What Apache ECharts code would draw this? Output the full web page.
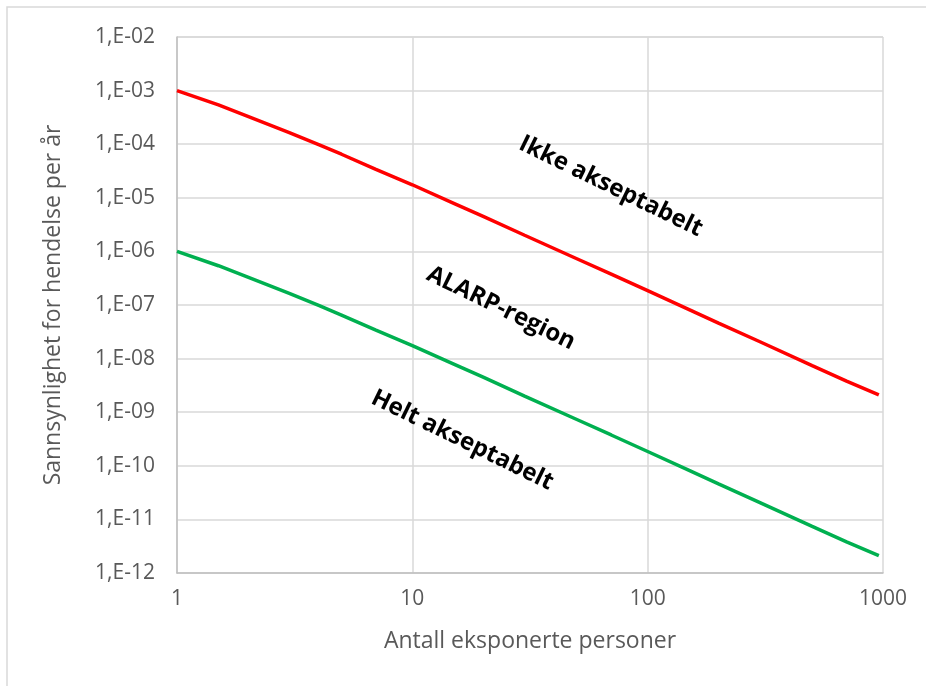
<!DOCTYPE html>
<html>
<head>
<meta charset="utf-8">
<script src="https://cdn.jsdelivr.net/npm/echarts@6/dist/echarts.min.js"></script>
<style>
html,body{margin:0;padding:0;background:#fff;}
#c{width:926px;height:686px;}
</style>
</head>
<body>
<div id="c"></div>
<script>
// Data
const persons = [1, 1.5, 2, 3, 4, 5, 7, 10, 15, 20, 30, 50, 70, 100, 150, 200, 300, 500, 700, 960];
const ikkeAkseptabelt = [1.0e-3, 5.4e-4, 3.3e-4, 1.65e-4, 9.8e-5, 6.5e-5, 3.4e-5, 1.75e-5, 7.9e-6, 4.5e-6, 2.0e-6, 7.3e-7, 3.76e-7, 1.85e-7, 8.2e-8, 4.6e-8, 2.06e-8, 7.4e-9, 3.8e-9, 2.1e-9];
const heltAkseptabelt = [1.0e-6, 5.4e-7, 3.3e-7, 1.65e-7, 9.8e-8, 6.5e-8, 3.4e-8, 1.75e-8, 7.9e-9, 4.5e-9, 2.0e-9, 7.3e-10, 3.76e-10, 1.85e-10, 8.2e-11, 4.6e-11, 2.06e-11, 7.4e-12, 3.8e-12, 2.1e-12];
const regionLabels = ['Ikke akseptabelt', 'ALARP-region', 'Helt akseptabelt'];
const labelAnchors = [[69.7, 1.64e-5], [23.8, 8.7e-8], [16.3, 3.0e-10]];
const xTitle = 'Antall eksponerte personer';
const yTitle = 'Sannsynlighet for hendelse per år';

const font = '"Open Sans", sans-serif';
const grey = '#595959';

const chart = echarts.init(document.getElementById('c'), null, {renderer: 'canvas'});
const pair = (xs, ys) => xs.map((x, i) => [x, ys[i]]);

chart.setOption({
  animation: false,
  backgroundColor: '#fff',
  grid: {left: 177, right: 43, top: 37, bottom: 113, containLabel: false},
  xAxis: {
    type: 'log', logBase: 10, min: 1, max: 1000, splitNumber: 3,
    name: xTitle, nameLocation: 'middle', nameGap: 57,
    nameTextStyle: {color: grey, fontFamily: font, fontSize: 23},
    axisLine: {show: true, lineStyle: {color: '#bfbfbf', width: 1.5}},
    axisTick: {show: false},
    splitLine: {show: true, lineStyle: {color: '#d9d9d9', width: 1.5}},
    minorTick: {show: false}, minorSplitLine: {show: false},
    axisLabel: {color: grey, fontFamily: font, fontSize: 21, margin: 16,
      formatter: v => String(Math.round(v))}
  },
  yAxis: {
    type: 'log', logBase: 10, min: 1e-12, max: 1e-2, splitNumber: 10,
    name: yTitle, nameLocation: 'middle', nameGap: 112, nameRotate: 90,
    nameTextStyle: {color: grey, fontFamily: font, fontSize: 23},
    axisLine: {show: true, lineStyle: {color: '#bfbfbf', width: 1.5}},
    axisTick: {show: false},
    splitLine: {show: true, lineStyle: {color: '#d9d9d9', width: 1.5}},
    axisLabel: {color: grey, fontFamily: font, fontSize: 21, margin: 22,
      formatter: v => {
        const e = Math.round(Math.log10(v));
        const a = Math.abs(e);
        return '1,E' + (e < 0 ? '-' : '+') + (a < 10 ? '0' + a : a);
      }}
  },
  series: [
    {type: 'line', name: 'Ikke akseptabelt', data: pair(persons, ikkeAkseptabelt),
      smooth: false, showSymbol: false, lineStyle: {color: '#ff0000', width: 3.5}, itemStyle: {color: '#ff0000'}},
    {type: 'line', name: 'Helt akseptabelt', data: pair(persons, heltAkseptabelt),
      smooth: false, showSymbol: false, lineStyle: {color: '#00b050', width: 3.5}, itemStyle: {color: '#00b050'}}
  ]
});

const rot = -26 * Math.PI / 180;
const graphics = [{
  type: 'rect', shape: {x: 7, y: 7, width: 940, height: 700},
  style: {fill: 'none', stroke: '#d9d9d9', lineWidth: 1.5}, silent: true, z: -1
}];
regionLabels.forEach((t, i) => {
  const p = chart.convertToPixel({gridIndex: 0}, labelAnchors[i]);
  graphics.push({
    type: 'text', x: p[0], y: p[1], rotation: rot,
    style: {text: t, fill: '#000', font: 'bold 24px ' + font, align: 'center', verticalAlign: 'middle'}
  });
});
chart.setOption({graphic: graphics});
</script>
</body>
</html>
